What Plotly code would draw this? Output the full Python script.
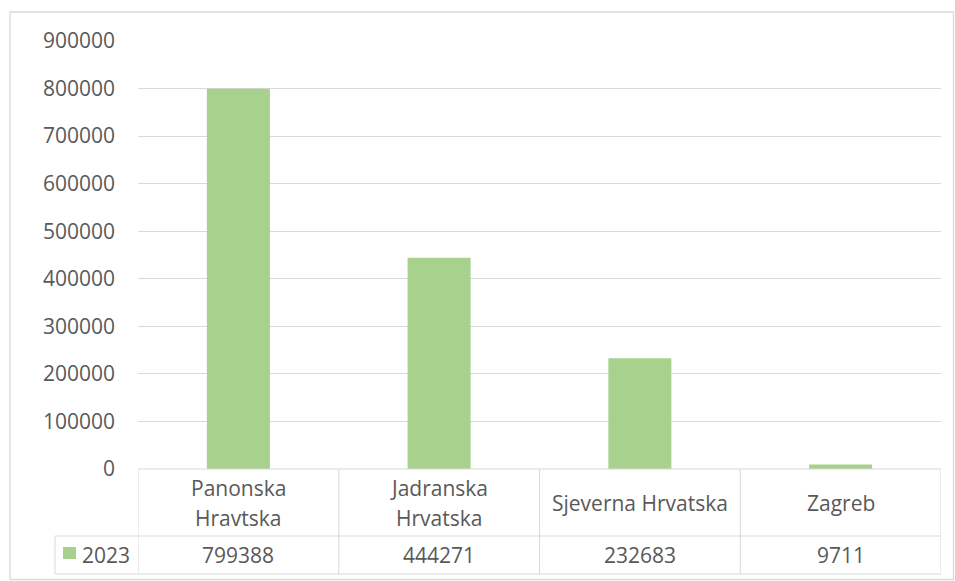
import plotly.graph_objects as go

categories = ["Panonska Hravtska", "Jadranska Hrvatska", "Sjeverna Hrvatska", "Zagreb"]
category_labels = ["Panonska<br>Hravtska", "Jadranska<br>Hrvatska", "Sjeverna Hrvatska", "Zagreb"]
series_name = "2023"
values = [799388, 444271, 232683, 9711]
y_ticks = [0, 100000, 200000, 300000, 400000, 500000, 600000, 700000, 800000, 900000]

W, H = 955, 581
L, R, T, B = 138, 941, 41, 469  # plot area in pixels
GREEN = "#A9D18E"
GRID = "#D9D9D9"
TXT = "#595959"
FONT = "Open Sans"
FS = 21

def px(x):
    return (x - L) / (R - L)

def py(y):
    return (B - y) / (B - T)

fig = go.Figure()
fig.add_trace(go.Bar(x=list(range(len(categories))), y=values, name=series_name,
                     marker=dict(color=GREEN, line=dict(width=0)), showlegend=False,
                     hoverinfo="x+y"))

shapes = []
line = dict(color=GRID, width=1)
# outer border
shapes.append(dict(type="rect", xref="paper", yref="paper", x0=px(10), x1=px(953.5),
                   y0=py(579.5), y1=py(12), line=dict(color=GRID, width=1.3), layer="below"))
# table horizontal lines
for y, x0 in [(469, 138), (536, 55), (574, 55)]:
    shapes.append(dict(type="line", xref="paper", yref="paper", x0=px(x0), x1=px(941),
                       y0=py(y), y1=py(y), line=line))
# vertical lines at category boundaries
n = len(categories)
for i in range(n + 1):
    shapes.append(dict(type="line", xref="x", yref="paper", x0=i - 0.5, x1=i - 0.5,
                       y0=py(469), y1=py(574), line=line))
shapes.append(dict(type="line", xref="paper", yref="paper", x0=px(55), x1=px(55),
                   y0=py(536), y1=py(574), line=line))
# legend key
shapes.append(dict(type="rect", xref="paper", yref="paper", x0=px(63), x1=px(76),
                   y0=py(559), y1=py(547), line=dict(width=0), fillcolor=GREEN))

annotations = []
for i, (lab, v) in enumerate(zip(category_labels, values)):
    parts = lab.split("<br>")
    k = len(parts)
    for j, part in enumerate(parts):
        yc = 503 + (j - (k - 1) / 2) * 30
        annotations.append(dict(x=i, y=py(yc), xref="x", yref="paper", text=part,
                                showarrow=False, xanchor="center", yanchor="middle",
                                font=dict(family=FONT, size=FS, color=TXT)))
    annotations.append(dict(x=i, y=py(555), xref="x", yref="paper", text=str(v),
                            showarrow=False, xanchor="center", yanchor="middle",
                            font=dict(family=FONT, size=FS, color=TXT)))
annotations.append(dict(x=px(80), y=py(555), xref="paper", yref="paper", text=series_name,
                        showarrow=False, xanchor="left", yanchor="middle",
                        font=dict(family=FONT, size=FS, color=TXT)))

fig.update_layout(
    width=W, height=H,
    margin=dict(l=L, r=W - R, t=T, b=H - B, pad=0),
    paper_bgcolor="white", plot_bgcolor="white",
    bargap=0.686,
    font=dict(family=FONT, size=FS, color=TXT),
    xaxis=dict(range=[-0.5, n - 0.5], showticklabels=False, showgrid=False,
               zeroline=False, showline=False, ticks=""),
    yaxis=dict(range=[0, 900000], tickvals=y_ticks, ticktext=[str(t) for t in y_ticks],
               showgrid=True, gridcolor=GRID, gridwidth=1, zeroline=False,
               showline=False, ticks="", ticklabelstandoff=22,
               tickfont=dict(family=FONT, size=FS, color=TXT)),
    shapes=shapes, annotations=annotations,
)

fig.write_html("out.html", config={"displayModeBar": False},
               post_script="document.body.style.margin='0';document.body.style.overflow='hidden';")
